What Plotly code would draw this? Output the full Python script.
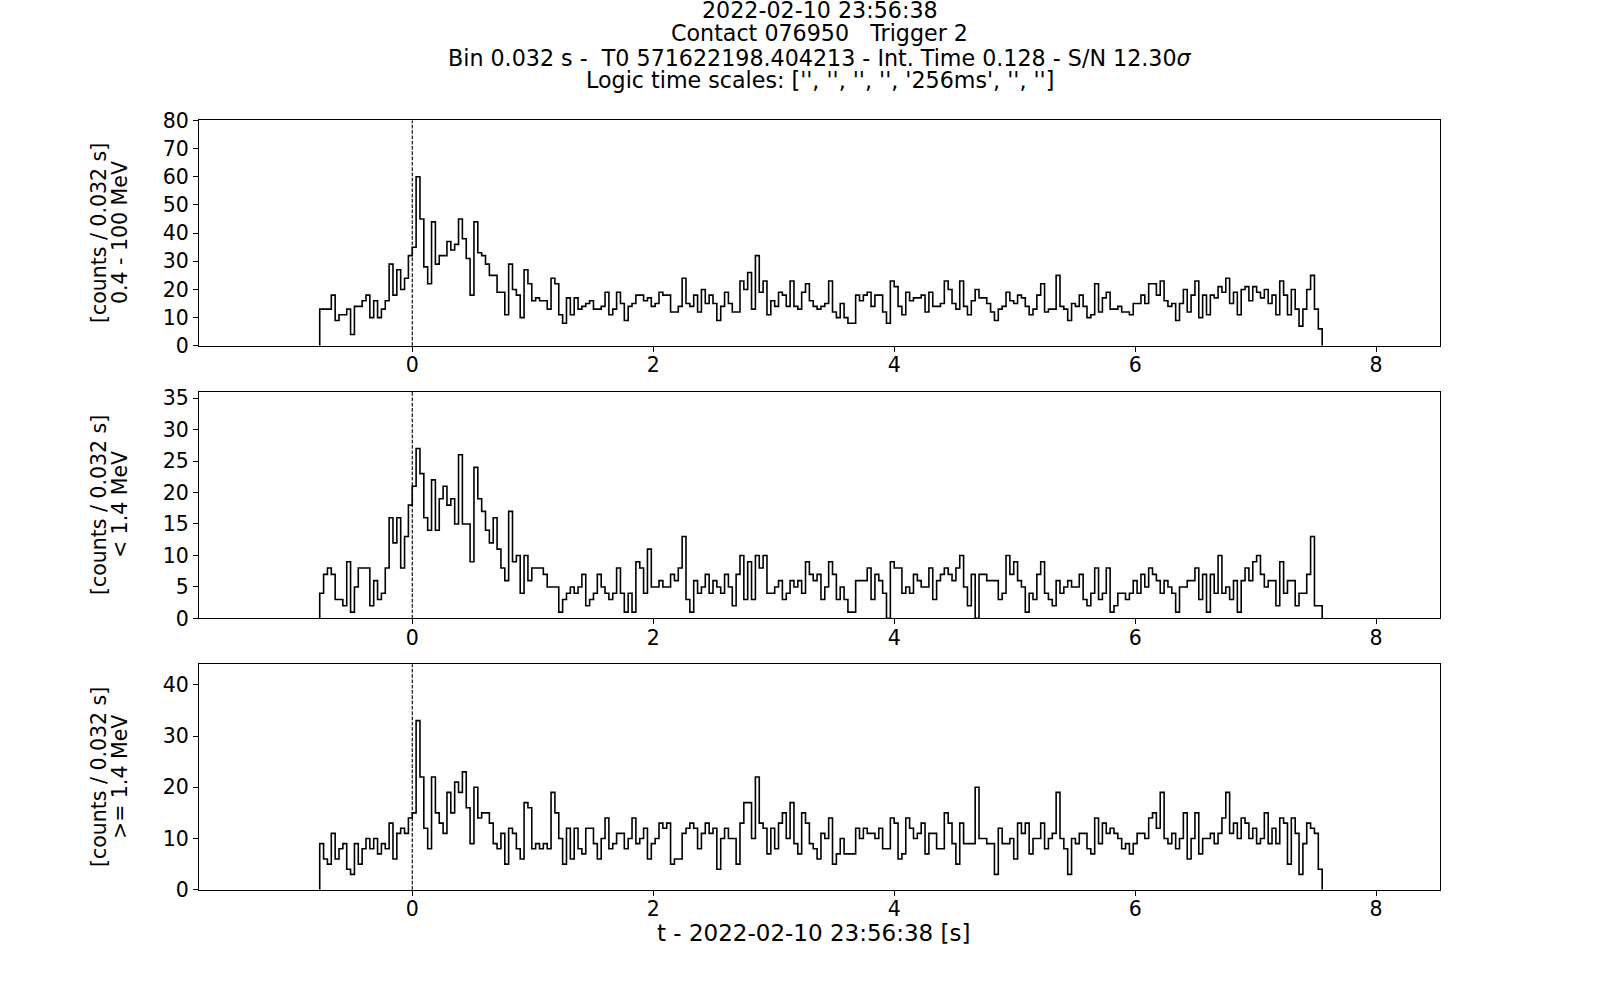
import numpy as np
import plotly.graph_objects as go

# ---- data ----
T_START = -0.768   # left edge of first bin [s]
BIN = 0.032        # bin width [s]

counts_all = [
    13,13,13,18,9,11,11,13,4,14, 14,16,18,10,16,10,13,16,29,18,
    27,20,24,32,35,60,45,28,22,44, 29,32,32,37,34,36,45,38,31,18,
    44,33,32,29,25,25,19,19,11,29, 20,18,10,27,22,16,17,16,16,13,
    24,22,11,8,17,11,17,13,14,15, 16,13,13,14,19,11,13,19,15,9,
    14,15,18,18,16,17,14,15,19,18, 18,12,12,14,24,15,14,18,12,20,
    15,18,15,9,14,19,15,12,12,23, 20,26,13,32,19,23,11,16,14,19,
    18,14,23,14,13,19,22,16,14,13, 14,15,23,12,10,15,10,8,8,18,
    16,18,19,14,18,18,12,8,23,21, 14,11,19,16,17,17,18,12,19,14,
    14,15,23,20,15,13,23,14,11,16, 20,17,17,15,12,9,13,14,19,16,
    15,18,17,14,11,13,18,22,12,13, 13,25,14,13,9,15,14,18,14,10,
    11,22,12,17,19,13,13,14,12,12, 11,15,15,18,15,22,22,18,23,16,
    14,15,9,15,20,12,18,23,10,18, 11,18,17,21,19,24,15,19,11,20,
    21,16,21,19,17,20,15,18,11,23, 18,11,20,13,7,13,20,25,13,6,
]

counts_low = [
    4,7,8,7,3,3,2,9,1,5, 8,8,8,2,6,3,4,8,16,12,
    16,8,13,18,21,27,23,16,14,22, 14,19,21,18,19,15,26,15,15,9,
    24,19,17,14,12,16,11,8,6,17, 9,10,4,10,6,8,8,8,7,5,
    5,5,1,3,4,5,4,5,7,2, 3,4,7,5,4,3,4,8,4,1,
    4,1,9,8,4,11,5,5,6,5, 5,7,6,8,13,3,1,6,4,5,
    7,4,6,5,4,7,5,2,7,10, 3,9,3,10,8,10,4,4,5,6,
    3,4,6,5,6,4,9,7,6,7, 3,5,9,7,3,5,3,1,1,6,
    6,6,8,3,7,6,4,0,9,8, 8,4,5,4,7,6,5,5,8,3,
    6,7,8,7,6,8,10,5,2,7, 0,7,7,6,6,6,3,4,10,7,
    9,6,5,1,4,3,7,9,4,3, 2,6,4,5,6,5,5,7,3,2,
    4,8,3,4,8,1,2,4,4,3, 4,6,4,7,5,8,7,6,4,6,
    5,4,1,5,5,6,6,8,3,7, 1,7,4,10,4,5,3,6,1,6,
    8,6,9,10,7,5,6,6,2,9, 4,6,6,2,4,4,7,13,2,2,
]

counts_high = [
    9,6,5,11,6,8,9,4,3,9, 5,8,10,8,10,7,9,8,13,6,
    11,12,11,14,15,33,22,12,8,22, 15,13,11,19,15,21,19,23,16,9,
    20,14,15,15,13,9,8,11,5,12, 11,8,6,17,16,8,9,8,9,8,
    19,15,10,5,12,6,12,8,7,12, 12,9,6,10,14,8,9,11,11,8,
    10,14,9,10,12,6,9,10,13,12, 13,5,6,6,11,12,13,12,8,11,
    13,11,12,4,10,12,10,10,5,13, 17,17,10,22,13,12,7,12,8,13,
    15,10,17,9,7,15,13,9,8,6, 11,10,14,5,7,10,7,7,7,12,
    10,12,11,11,10,12,8,8,14,13, 6,7,14,12,10,11,13,7,11,11,
    8,8,15,13,9,5,13,9,9,9, 20,10,10,9,9,3,12,9,9,10,
    6,13,11,13,7,10,10,13,8,10, 11,19,10,8,3,10,9,11,11,8,
    7,14,9,13,11,12,11,10,8,9, 7,9,11,11,10,14,15,12,19,10,
    9,11,8,10,15,6,10,15,7,10, 10,11,9,11,14,19,11,13,10,14,
    13,10,12,9,10,15,9,12,9,14, 13,5,14,11,3,9,13,12,11,4,
]

ylabel_unit = "[counts / 0.032 s]"
ylabels_energy = ["0.4 - 100 MeV", "&lt; 1.4 MeV", "&gt;= 1.4 MeV"]
y_ranges = [80, 36, 44]
y_dticks = [10, 5, 10]
x_ticks = [0, 2, 4, 6, 8]
title_lines = [
    "2022-02-10 23:56:38",
    "Contact 076950   Trigger 2",
    "Bin 0.032 s -  T0 571622198.404213 - Int. Time 0.128 - S/N 12.30<i>σ</i>",
    "Logic time scales: ['', '', '', '', '256ms', '', '']",
]
xlabel = "t - 2022-02-10 23:56:38 [s]"

# ---- layout geometry (pixels in a 1600x1000 figure) ----
W, H = 1600, 1000
X_L, X_R = 199, 1440
panels_px = [(120.4, 345.8), (391.8, 618.4), (664.3, 889.8)]
X_RANGE = [-1.77, 8.53]
FONT = "DejaVu Sans"
FS_TICK = 20.5
FS_LAB = 20.5
FS_TITLE = 22.2
FS_XLAB = 23

fig = go.Figure()

def step_xy(counts):
    n = len(counts)
    edges = T_START + BIN * np.arange(n + 1)
    xs = np.concatenate([[edges[0]], edges[:-1], [edges[-1]]])
    ys = np.concatenate([[0], np.asarray(counts, float), [0]])
    return xs, ys

series = [counts_all, counts_low, counts_high]
for k, counts in enumerate(series):
    xs, ys = step_xy(counts)
    ax = "" if k == 0 else str(k + 1)
    fig.add_trace(go.Scatter(
        x=xs, y=ys, mode="lines", line=dict(color="black", width=1.6, shape="hv"),
        xaxis="x" + ax, yaxis="y" + ax, showlegend=False, hoverinfo="skip"))

for k, (top, bot) in enumerate(panels_px):
    ax = "" if k == 0 else str(k + 1)
    dom_y = [1 - bot / H, 1 - top / H]
    common = dict(showline=True, linecolor="black", linewidth=1.1, mirror=True,
                  ticks="outside", ticklen=5, tickwidth=1.1, tickcolor="black",
                  showgrid=False, zeroline=False, automargin=False,
                  tickfont=dict(family=FONT, size=FS_TICK, color="black"))
    fig.update_layout(**{
        "xaxis" + ax: dict(domain=[X_L / W, X_R / W], range=X_RANGE,
                           tickvals=x_ticks, anchor="y" + ax,
                           ticklabelstandoff=-4, **common),
        "yaxis" + ax: dict(domain=dom_y, range=[0, y_ranges[k]], dtick=y_dticks[k],
                           tick0=0, anchor="x" + ax, **common),
    })
    fig.add_shape(type="line", xref="x" + ax, yref="y" + ax + " domain",
                  x0=0, x1=0, y0=0, y1=1,
                  line=dict(color="black", width=1.1, dash="3.7px,1.6px"))
    ymid = 1 - (top + bot) / 2 / H
    for txt, xpx in [(ylabel_unit, 99), (ylabels_energy[k], 120)]:
        fig.add_annotation(
            text=txt, xref="paper", yref="paper", x=xpx / W, y=ymid,
            xanchor="center", yanchor="middle", textangle=-90, showarrow=False,
            font=dict(family=FONT, size=FS_LAB, color="black"))

xc = (X_L + X_R) / 2 / W
for line, ypx in zip(title_lines, [10.5, 33, 58, 80]):
    fig.add_annotation(text=line, xref="paper", yref="paper", x=xc, y=1 - ypx / H,
                       xanchor="center", yanchor="middle", showarrow=False,
                       font=dict(family=FONT, size=FS_TITLE, color="black"))

fig.add_annotation(text=xlabel, xref="paper", yref="paper", x=813 / W, y=1 - 933 / H,
                   xanchor="center", yanchor="middle", showarrow=False,
                   font=dict(family=FONT, size=FS_XLAB, color="black"))

fig.update_layout(width=W, height=H, margin=dict(l=0, r=0, t=0, b=0, pad=0),
                  autosize=False,
                  paper_bgcolor="white", plot_bgcolor="white",
                  font=dict(family=FONT, size=FS_TICK, color="black"))

fig.write_html(
    "out.html",
    config={"displayModeBar": False},
    post_script="document.body.style.margin='0';document.body.style.overflow='hidden';",
)
